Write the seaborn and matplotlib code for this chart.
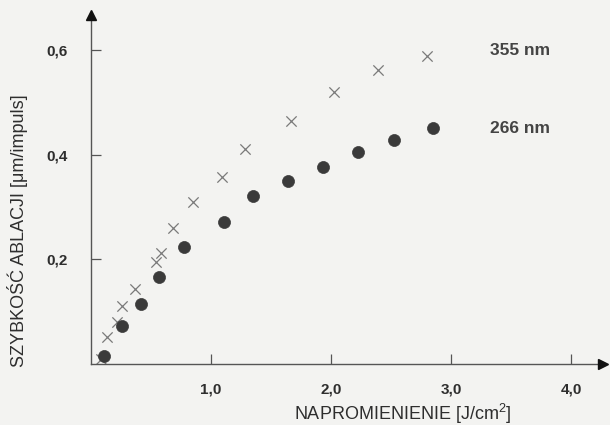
import matplotlib
matplotlib.use("Agg")
import matplotlib.pyplot as plt
import seaborn as sns
import pandas as pd

# 355 nm series (crosses)
x_355 = [0.083, 0.133, 0.217, 0.258, 0.367, 0.542, 0.583, 0.683, 0.850, 1.092, 1.283, 1.667, 2.025, 2.392, 2.800]
y_355 = [0.010, 0.052, 0.080, 0.111, 0.143, 0.195, 0.212, 0.260, 0.310, 0.358, 0.411, 0.465, 0.520, 0.562, 0.589]
# 266 nm series (dots)
x_266 = [0.108, 0.258, 0.417, 0.567, 0.775, 1.108, 1.350, 1.642, 1.933, 2.225, 2.525, 2.850]
y_266 = [0.015, 0.073, 0.115, 0.166, 0.224, 0.272, 0.321, 0.350, 0.377, 0.405, 0.428, 0.451]

x_ticks = [1.0, 2.0, 3.0, 4.0]
x_tick_labels = ["1,0", "2,0", "3,0", "4,0"]
y_ticks = [0.2, 0.4, 0.6]
y_tick_labels = ["0,2", "0,4", "0,6"]
series_labels = ["355 nm", "266 nm"]
series_label_pos = [(3.325, 0.600), (3.325, 0.451)]

sns.set_theme(style="white")
plt.rcParams["font.family"] = ["Liberation Sans", "DejaVu Sans"]
plt.rcParams["mathtext.fontset"] = "custom"
plt.rcParams["mathtext.rm"] = "Liberation Sans"

bg = "#f3f3f1"
axis_col = "#555555"
text_col = "#2e2e2e"

fig = plt.figure(figsize=(6.10, 4.25), dpi=100, facecolor=bg)
ax = fig.add_axes([91 / 610, 61 / 425, (603 - 91) / 610, (364 - 15) / 425])
ax.set_facecolor(bg)

df355 = pd.DataFrame({"x": x_355, "y": y_355})
df266 = pd.DataFrame({"x": x_266, "y": y_266})

sns.scatterplot(data=df355, x="x", y="y", marker="x", s=55, color="#7a7a7a",
                linewidth=0.9, ax=ax, zorder=2)
sns.scatterplot(data=df266, x="x", y="y", marker="o", s=75, color="#3a3a3a",
                edgecolor="#3a3a3a", linewidth=0.5, ax=ax, zorder=3)

ax.set_xlim(0, (603 - 91) / 120)
ax.set_ylim(0, (364 - 15) / 523)

for s in ["top", "right"]:
    ax.spines[s].set_visible(False)
for s in ["left", "bottom"]:
    ax.spines[s].set_color(axis_col)
    ax.spines[s].set_linewidth(1.0)

# arrow heads
ax.plot(1, 0, ">", transform=ax.transAxes, clip_on=False, color="#111111", markersize=7, zorder=5)
ax.plot(0, 1, "^", transform=ax.transAxes, clip_on=False, color="#111111", markersize=7, zorder=5)

ax.set_xticks(x_ticks)
ax.set_xticklabels(x_tick_labels, fontsize=11, fontweight="bold", color=text_col)
ax.set_yticks(y_ticks)
ax.set_yticklabels(y_tick_labels, fontsize=11, fontweight="bold", color=text_col)
ax.tick_params(axis="x", direction="in", length=7, width=0.9, color=axis_col, pad=13, bottom=True)
ax.tick_params(axis="y", direction="in", length=7, width=0.9, color=axis_col, pad=17, left=True)

ax.set_xlabel("")
ax.set_ylabel("")
fig.text(403 / 610, 1 - 414 / 425, "NAPROMIENIENIE [J/cm$^{2}$]", fontsize=13, color=text_col,
         ha="center", va="center")
fig.text(18 / 610, 1 - 231 / 425, "SZYBKOŚĆ ABLACJI [μm/impuls]", fontsize=13, color=text_col,
         ha="center", va="center", rotation=90)

for lab, (px, py) in zip(series_labels, series_label_pos):
    ax.text(px, py, lab, fontsize=12.5, fontweight="bold", color="#444444", va="center", ha="left")

fig.savefig("out.png", dpi=100, facecolor=bg)
